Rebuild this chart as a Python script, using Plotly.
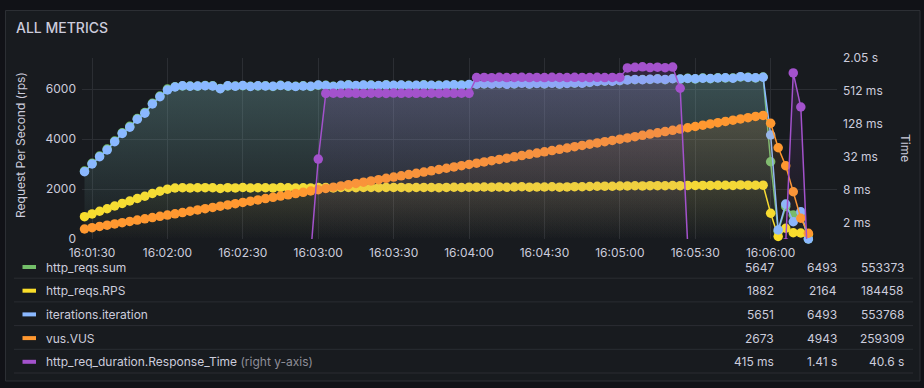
import plotly.graph_objects as go
import pandas as pd

# ---------------- data ----------------
FIRST_SAMPLE = "2024-01-01 16:01:27"
SAMPLE_STEP = "3s"
X_RANGE = ["2024-01-01 16:01:26", "2024-01-01 16:06:26.4"]
X_TICK0 = "2024-01-01 16:01:30"

http_reqs_sum = [
    2720, 3030, 3320, 3600, 3920, 4250, 4510, 4820, 5060, 5430, 5720, 6000,
    6090, 6120, 6120, 6110, 6140, 6130, 6020, 6120, 6120, 6130,
    6110, 6120, 6130, 6100, 6150, 6110, 6110, 6130, 6100, 6150,
    6150, 6110, 6140, 6170, 6130, 6150, 6160, 6130, 6170, 6140,
    6150, 6150, 6140, 6170, 6140, 6150, 6150, 6160, 6160, 6170,
    6200, 6200, 6210, 6210, 6200, 6200, 6240, 6190, 6230, 6200,
    6240, 6190, 6230, 6230, 6240, 6260, 6310, 6310, 6320, 6330,
    6370, 6370, 6380, 6380, 6410, 6370, 6420, 6390, 6430, 6400,
    6440, 6410, 6450, 6440, 6440, 6480, 6470, 6440, 6480,
    3090, 300, 1300, 960, 1000, 0,
]

http_reqs_rps = [
    895, 1005, 1110, 1210, 1320, 1425, 1520, 1620, 1710, 1820, 1910, 1995,
    2040, 2050, 2045, 2050, 2055, 2050, 2020, 2055, 2045, 2060,
    2040, 2055, 2050, 2045, 2060, 2050, 2040, 2050, 2045, 2065,
    2060, 2040, 2060, 2065, 2055, 2065, 2060, 2055, 2065, 2060,
    2065, 2055, 2060, 2065, 2060, 2055, 2065, 2070, 2060, 2075,
    2075, 2080, 2075, 2085, 2070, 2080, 2090, 2075, 2085, 2080,
    2090, 2075, 2085, 2095, 2090, 2100, 2110, 2115, 2110, 2120,
    2125, 2130, 2125, 2135, 2135, 2130, 2140, 2135, 2140, 2140,
    2145, 2140, 2150, 2150, 2145, 2164, 2155, 2150, 2155,
    1030, 100, 430, 250, 240, 190,
]

iterations_iteration = [
    2690, 3000, 3290, 3560, 3890, 4220, 4470, 4790, 5030, 5400, 5690, 5960,
    6080, 6130, 6110, 6120, 6130, 6120, 6010, 6130, 6110, 6140,
    6100, 6130, 6120, 6110, 6140, 6120, 6100, 6120, 6110, 6160,
    6140, 6100, 6150, 6160, 6140, 6160, 6150, 6140, 6160, 6150,
    6160, 6140, 6150, 6160, 6150, 6140, 6160, 6170, 6150, 6180,
    6190, 6210, 6200, 6220, 6190, 6210, 6230, 6200, 6220, 6210,
    6230, 6200, 6220, 6240, 6230, 6270, 6300, 6320, 6310, 6340,
    6360, 6380, 6370, 6390, 6400, 6380, 6410, 6400, 6420, 6410,
    6430, 6420, 6440, 6450, 6430, 6493, 6460, 6450, 6470,
    4160, 360, 1400, 690, 1090, 0,
]

vus_vus = [
    400, 452, 503, 553, 604, 655, 705, 756, 806, 857,
    908, 958, 1009, 1059, 1110, 1161, 1211, 1262, 1312, 1363,
    1414, 1464, 1515, 1565, 1616, 1667, 1717, 1768, 1818, 1869,
    1920, 1970, 2021, 2071, 2122, 2173, 2223, 2274, 2324, 2375,
    2426, 2476, 2527, 2577, 2628, 2679, 2729, 2780, 2830, 2881,
    2932, 2982, 3033, 3083, 3134, 3185, 3235, 3286, 3336, 3387,
    3438, 3488, 3539, 3589, 3640, 3691, 3741, 3792, 3842, 3893,
    3944, 3994, 4045, 4095, 4146, 4197, 4247, 4298, 4348, 4399,
    4450, 4500, 4551, 4601, 4652, 4703, 4753, 4804, 4854, 4905,
    4943,
    4630, 3650, 2930, 1890, 830, 230,
]

response_time_ms = [
    0.52, 0.48, 0.55, 0.5, 0.47, 0.53, 0.51, 0.49, 0.54, 0.5, 0.52, 0.48,
    0.5, 0.53, 0.49, 0.51, 0.55, 0.5, 0.48, 0.52, 0.5, 0.51, 0.49, 0.53,
    0.5, 0.52, 0.48, 0.51, 0.5, 0.52, 0.53,
    29,
    460, 465, 462, 468, 463, 460, 466, 464, 461, 467,
    463, 465, 462, 466, 464, 460, 467, 463, 465, 462,
    900, 905, 895, 910, 898, 902, 907, 896, 904, 899,
    908, 901, 897, 906, 903, 900, 909, 898, 904, 902,
    1350, 1380, 1410, 1370, 1390, 1360, 1400,
    573,
    0.78,
    0.5, 0.48, 0.52, 0.5, 0.49, 0.51, 0.5, 0.53, 0.48, 0.5, 0.52, 0.5,
    0.85, 1090, 260, 0.19,
]

series_names = ["http_reqs.sum", "http_reqs.RPS", "iterations.iteration",
                "vus.VUS", "http_req_duration.Response_Time"]
series_colors = ["#73BF69", "#FADE2A", "#8AB8FF", "#FF9830", "#A352CC"]
legend_mean = ["5647", "1882", "5651", "2673", "415 ms"]
legend_max = ["6493", "2164", "6493", "4943", "1.41 s"]
legend_total = ["553373", "184458", "553768", "259309", "40.6 s"]

left_ticks = [0, 2000, 4000, 6000]
right_tickvals = [2, 8, 32, 128, 512, 2048]
right_ticktext = ["2 ms", "8 ms", "32 ms", "128 ms", "512 ms", "2.05 s"]
LEFT_MAX = 7240
RIGHT_RANGE_LOG10 = [0, 3.3113]

# ---------------- layout geometry (pixels) ----------------
W, H = 924, 388
L, R, T, B = 82, 87, 58, 149
PW, PH = W - L - R, H - T - B

def px(xp):
    return (xp - L) / PW

def py(yp):
    return (T + PH - yp) / PH

def rgba(hexc, a):
    hexc = hexc.lstrip("#")
    r, g, b = int(hexc[0:2], 16), int(hexc[2:4], 16), int(hexc[4:6], 16)
    return f"rgba({r},{g},{b},{a})"

TEXT = "#ccccdc"
FONT = "Inter"
GRID = "#2b2e33"
MARKER = 9.5

times = pd.date_range(FIRST_SAMPLE, periods=len(iterations_iteration), freq=SAMPLE_STEP)

fig = go.Figure()
left_series = [http_reqs_sum, http_reqs_rps, iterations_iteration, vus_vus]
for vals, name, col in zip(left_series, series_names[:4], series_colors[:4]):
    fig.add_trace(go.Scatter(
        x=times, y=vals, name=name, mode="lines+markers",
        line=dict(color=col, width=1.5),
        marker=dict(color=col, size=MARKER),
        fill="tozeroy",
        fillgradient=dict(type="vertical", start=0, stop=LEFT_MAX,
                          colorscale=[[0, rgba(col, 0)], [1, rgba(col, 0.2)]]),
        cliponaxis=False, yaxis="y", showlegend=False,
    ))

pc = series_colors[4]
fig.add_trace(go.Scatter(
    x=times, y=response_time_ms, name=series_names[4], mode="lines+markers",
    line=dict(color=pc, width=1.5),
    marker=dict(color=pc, size=MARKER),
    fill="tozeroy",
    fillgradient=dict(type="vertical", start=1, stop=2048,
                      colorscale=[[0, rgba(pc, 0)], [1, rgba(pc, 0.2)]]),
    cliponaxis=True, yaxis="y2", showlegend=False,
))

shapes = []
annotations = []

# panel background
shapes.append(dict(type="rect", xref="paper", yref="paper", layer="below",
                   x0=px(5.5), x1=px(920), y0=py(381), y1=py(10.5),
                   fillcolor="#181b1f", line=dict(color="#2c2f34", width=1)))

# title
annotations.append(dict(text="ALL METRICS", xref="paper", yref="paper",
                        x=px(14), y=py(27.5), xanchor="left", yanchor="middle",
                        showarrow=False,
                        font=dict(family=FONT, size=14, color=TEXT, weight=500)))

# axis titles
annotations.append(dict(text="Request Per Second (rps)", xref="paper", yref="paper",
                        x=px(20), y=py(145), xanchor="center", yanchor="middle",
                        textangle=-90, showarrow=False,
                        font=dict(family=FONT, size=12, color=TEXT)))
annotations.append(dict(text="Time", xref="paper", yref="paper",
                        x=px(906), y=py(148), xanchor="center", yanchor="middle",
                        textangle=90, showarrow=False,
                        font=dict(family=FONT, size=12, color=TEXT)))

# legend table
row_y0, row_h = 267, 23.7
for i, (name, col) in enumerate(zip(series_names, series_colors)):
    yc = row_y0 + i * row_h
    shapes.append(dict(type="rect", xref="paper", yref="paper",
                       x0=px(22.5), x1=px(36), y0=py(yc + 2), y1=py(yc - 2),
                       fillcolor=col, line=dict(width=0)))
    label = name
    if i == 4:
        label = name + " <span style='color:#8e8e98'>(right y-axis)</span>"
    annotations.append(dict(text=label, xref="paper", yref="paper",
                            x=px(44), y=py(yc), xanchor="left", yanchor="middle",
                            showarrow=False,
                            font=dict(family=FONT, size=12, color=TEXT)))
    for txt, xr in zip([legend_mean[i], legend_max[i], legend_total[i]], [776, 838.5, 906]):
        annotations.append(dict(text=txt, xref="paper", yref="paper",
                                x=px(xr), y=py(yc), xanchor="right", yanchor="middle",
                                showarrow=False,
                                font=dict(family=FONT, size=12, color=TEXT)))
    sep = yc + 11.2
    shapes.append(dict(type="line", xref="paper", yref="paper",
                       x0=px(14), x1=px(913), y0=py(sep), y1=py(sep),
                       line=dict(color="#2a2d32", width=1)))

fig.update_layout(
    width=W, height=H, autosize=False,
    margin=dict(l=L, r=R, t=T, b=B, pad=0),
    paper_bgcolor="#111217", plot_bgcolor="rgba(0,0,0,0)",
    font=dict(family=FONT, size=12, color=TEXT),
    showlegend=False,
    xaxis=dict(type="date", range=X_RANGE, tick0=X_TICK0, dtick=30000,
               tickformat="%H:%M:%S", showgrid=True, gridcolor=GRID, gridwidth=1,
               zeroline=False, showline=False, ticks="",
               tickfont=dict(family=FONT, size=12, color=TEXT),
               ticklabelstandoff=5),
    yaxis=dict(range=[0, LEFT_MAX], tickvals=left_ticks,
               ticktext=[str(v) for v in left_ticks],
               showgrid=True, gridcolor=GRID, gridwidth=1, zeroline=False,
               showline=False, ticks="", ticklabelstandoff=5,
               tickfont=dict(family=FONT, size=12, color=TEXT)),
    yaxis2=dict(type="log", range=RIGHT_RANGE_LOG10, overlaying="y", side="right",
                tickvals=right_tickvals, ticktext=right_ticktext,
                showgrid=False, zeroline=False, showline=False, ticks="",
                ticklabelstandoff=5,
                tickfont=dict(family=FONT, size=12, color=TEXT)),
    shapes=shapes, annotations=annotations,
)

fig.write_html(
    "out.html",
    config={"displayModeBar": False},
    post_script="document.body.style.margin='0';document.body.style.background='#111217';",
)
